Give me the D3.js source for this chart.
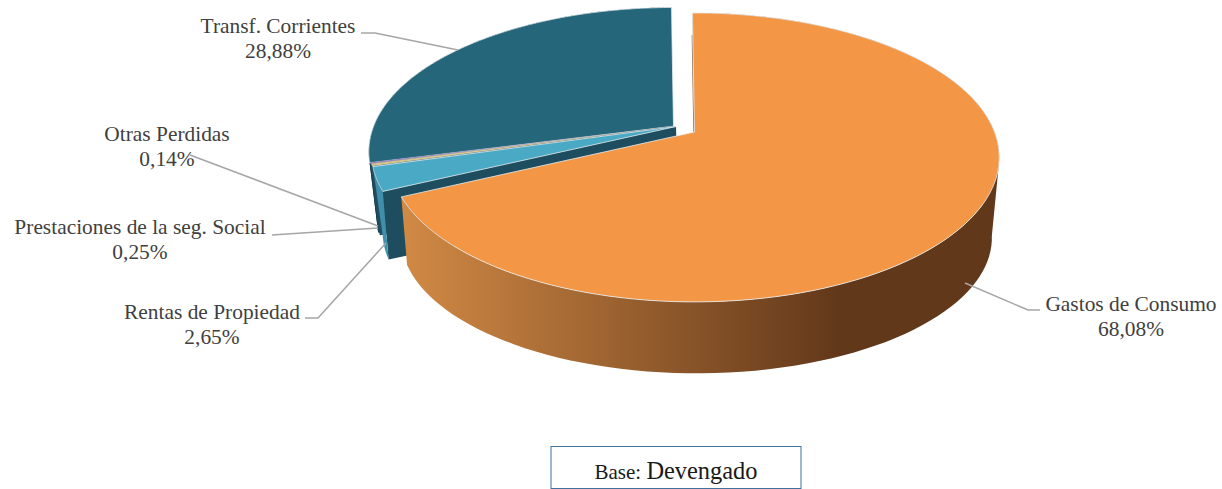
<!DOCTYPE html>
<html>
<head>
<meta charset="utf-8">
<script src="https://cdn.jsdelivr.net/npm/d3@7"></script>
<style>
  html, body { margin: 0; padding: 0; background: #fff; }
  svg { display: block; }
  text { font-family: "Liberation Serif", serif; fill: #404040; font-size: 21.4px; }
</style>
</head>
<body>
<script>
const categories = ['Gastos de Consumo', 'Rentas de Propiedad', 'Prestaciones de la seg. Social', 'Otras Perdidas', 'Transf. Corrientes'];
const percents   = [68.08, 2.65, 0.25, 0.14, 28.88];
const pctLabels  = ['68,08%', '2,65%', '0,25%', '0,14%', '28,88%'];

const width = 1222, height = 489;

// slice colours: top face, rim wall, cut face
const topColors  = ['#f39645', '#4aa9c5', '#d8c58a', '#8f6fb0', '#25667b'];
const rimColors  = ['url(#rimOrange)', '#3f8faa', '#8a7a50', '#5a4570', '#123845'];
const cutColors  = ['#6b3f1c', '#1e4d5f', '#1e4d5f', '#1e4d5f', '#0f2c36'];
const edgeWidths = [0.8, 0.8, 0.2, 0.2, 0.8];

// exploded apex of each slice, last number is the sideways shift of its lower rim
const apexes = [[694.5, 132, 2], [676, 126.5, 2], [675, 126, 0], [674, 126, 0], [673.5, 126.5, 0]];

// leader lines and text placement, same order as categories
const leaders = [
  [[965, 283], [1028, 310], [1040, 310]],
  [[386, 243], [318, 318], [305, 318]],
  [[378, 228], [272, 235]],
  [[378, 226], [190, 155]],
  [[458, 50], [375, 33], [361, 33]]
];
const labelPos = [[1131, 311, 336], [212, 319, 344], [140, 234, 259], [167, 141, 166], [278, 33, 58]];

// perspective disc, the lower rim gets its own numbers
const rx = 300, ry = 140, persp = 0.176;
const lowRx = 286, lowRy = 127, lowPersp = 0.25, depth = 72;
const tilt = -0.008;

function project(apex, angle, low) {
  const u = Math.sin(angle), v = Math.cos(angle);
  if (low) {
    const w = 1 + lowPersp * v;
    return [apex[0] + apex[2] + lowRx * u / w, apex[1] + depth - lowRy * v / w];
  }
  const w = 1 + persp * v;
  return [apex[0] + rx * u / w, apex[1] - ry * v / w];
}

const steps = 120;
function rim(apex, a0, a1, low) {
  return d3.range(0, steps + 1).map(i => project(apex, a0 + (a1 - a0) * i / steps, low));
}

const pie = d3.pie().sort(null).value(d => d).startAngle(tilt).endAngle(2 * Math.PI + tilt);
const arcs = pie(percents);
const line = d3.line();

const svg = d3.select('body').append('svg').attr('width', width).attr('height', height);

const grad = svg.append('defs').append('linearGradient')
    .attr('id', 'rimOrange')
    .attr('gradientUnits', 'userSpaceOnUse')
    .attr('x1', 400).attr('x2', 840).attr('y1', 0).attr('y2', 0);
grad.append('stop').attr('offset', 0).attr('stop-color', '#d28a45');
grad.append('stop').attr('offset', 1).attr('stop-color', '#62381a');

// back to front: teal first, orange last
[4, 3, 2, 1, 0].forEach(i => {
  const a = arcs[i], apex = apexes[i];
  const g = svg.append('g');
  const top0 = [apex[0], apex[1]];
  const low0 = [apex[0] + apex[2], apex[1] + depth];

  // only the cut at the start angle ever faces the viewer
  g.append('path')
    .attr('d', line([top0, project(apex, a.startAngle, false), project(apex, a.startAngle, true), low0]) + 'Z')
    .attr('fill', cutColors[i]);

  // rim wall: quads in one path, all wound the same way so nothing cancels and no seams show
  const up = rim(apex, a.startAngle, a.endAngle, false);
  const dn = rim(apex, a.startAngle, a.endAngle, true);
  const quads = d3.range(steps).map(k => {
    const q = [up[k], up[k + 1], dn[k + 1], dn[k]];
    if (d3.polygonArea(q) < 0) q.reverse();
    return line(q) + 'Z';
  }).join('');
  g.append('path')
    .attr('d', quads)
    .attr('fill', rimColors[i]);

  // thin dark sliver on the left of the orange cut
  if (i === 0) {
    const tip = project(apex, a.startAngle, false);
    g.append('path')
      .attr('d', line([[top0[0] - 0.7, top0[1]], [tip[0] - 0.3, tip[1] + 22]]))
      .attr('stroke', '#8a6b52')
      .attr('stroke-width', 1);
  }

  g.append('path')
    .attr('d', line([top0].concat(up)) + 'Z')
    .attr('fill', topColors[i])
    .attr('stroke', '#e8eef0')
    .attr('stroke-width', edgeWidths[i]);
});

leaders.forEach(pts => {
  svg.append('path')
    .attr('d', line(pts))
    .attr('fill', 'none')
    .attr('stroke', '#a6a6a6')
    .attr('stroke-width', 1.5);
});

categories.forEach((name, i) => {
  const p = labelPos[i];
  svg.append('text').attr('x', p[0]).attr('y', p[1]).attr('text-anchor', 'middle').text(name);
  svg.append('text').attr('x', p[0]).attr('y', p[2]).attr('text-anchor', 'middle').text(pctLabels[i]);
});

// base box
svg.append('rect')
    .attr('x', 551).attr('y', 446.5)
    .attr('width', 250).attr('height', 42)
    .attr('fill', '#fff')
    .attr('stroke', '#41719c');
const base = svg.append('text').attr('x', 676).attr('y', 479).attr('text-anchor', 'middle').style('fill', '#1a1a1a');
base.append('tspan').style('font-size', '21px').text('Base: ');
base.append('tspan').style('font-size', '24.4px').text('Devengado');
</script>
</body>
</html>
